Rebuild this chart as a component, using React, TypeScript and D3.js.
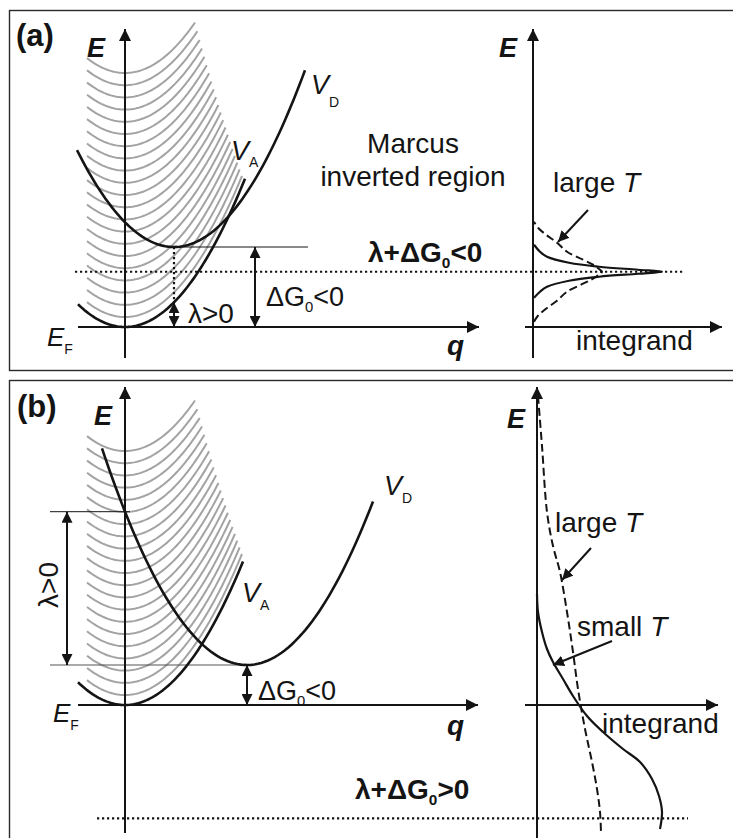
import React from 'react';
import * as d3 from 'd3';

const W = 733;
const H = 838;

// Parabola curvature shared by all diabatic curves (energy per q^2)
const curvature = [0.103];

// Equally spaced acceptor manifold levels above E_F
const acceptorLevels = [
  1.0, 2.22, 3.44, 4.66, 5.88, 7.1, 8.32, 9.54, 10.76, 11.98, 13.2,
  14.42, 15.64, 16.86, 18.08, 19.3, 20.52, 21.74, 22.96, 24.18, 25.4,
];
// q where each manifold level begins, and where the lowest / highest levels end
const levelStartQ = [-3.8];
const levelEndQ = [11.7, 7.0];

// Donor parabola vertex [q, E] in each panel
const donorVertexA = [4.9, 8.0];
const donorVertexB = [12.2, 4.0];

// q ranges drawn for V_A and V_D
const acceptorRangeA = [-4.7, 12.0];
const donorRangeA = [-4.8, 18.0];
const acceptorRangeB = [-4.7, 11.8];
const donorRangeB = [-2.3, 24.8];

// Integrand profiles, panel (a): [E offset from resonance, integrand]
const integrandSmallTA = [
  [-2.6, 0.1], [-2.0, 0.7], [-1.5, 1.4], [-0.9, 3.6], [-0.5, 6.6], [-0.2, 10.5],
  [0, 12.9], [0.2, 10.5], [0.5, 6.6], [0.9, 3.6], [1.5, 1.4], [2.0, 0.7], [2.7, 0.1],
];
const integrandLargeTA = [
  [-5.0, 0.1], [-4.4, 0.5], [-3.7, 1.3], [-2.9, 2.4], [-2.0, 3.4], [-1.2, 5.0], [-0.7, 6.0], [-0.2, 6.7],
  [0, 6.9], [0.2, 6.7], [0.7, 6.0], [1.2, 5.0], [2.0, 3.4], [2.9, 2.4], [3.7, 1.3], [4.4, 0.5], [5.0, 0.1],
];

// Integrand profiles, panel (b): [E, integrand]
const integrandLargeTB = [
  [30.9, 0.1], [25.9, 0.5], [19.3, 1.0], [15.9, 1.6], [13.3, 2.3], [9.3, 3.0], [5.3, 3.6],
  [1.6, 4.1], [-2.4, 4.8], [-5.7, 5.5], [-8.4, 6.0], [-10.7, 6.3], [-12.7, 6.4],
];
const integrandSmallTB = [
  [11.1, 0.0], [9.3, 0.1], [7.3, 0.5], [5.6, 1.0], [4.3, 1.6], [2.6, 2.6], [0.9, 3.6],
  [-1.1, 5.0], [-2.7, 6.6], [-4.4, 8.6], [-5.7, 10.3], [-7.4, 11.5], [-9.1, 12.2],
  [-10.7, 12.5], [-12.4, 12.3],
];

const FONT = '"Liberation Sans", Arial, Helvetica, sans-serif';
const GRAY = '#a3a3a3';
const INK = '#141414';
const DOTS = '2.2 2.8';

const qx = d3.scaleLinear().domain([0, 10]).range([125, 225]);
const yA = d3.scaleLinear().domain([0, 10]).range([327, 227]);
const yB = d3.scaleLinear().domain([0, 10]).range([705, 605]);
const intA = d3.scaleLinear().domain([0, 10]).range([533, 633]);
const intB = d3.scaleLinear().domain([0, 10]).range([537, 637]);

const k = curvature[0];

function parabola(q0: number, e0: number, from: number, to: number, y: d3.ScaleLinear<number, number>) {
  const pts = d3.range(0, 81).map((i) => {
    const q = from + ((to - from) * i) / 80;
    return [q, e0 + k * (q - q0) * (q - q0)] as [number, number];
  });
  return d3
    .line<[number, number]>()
    .x((d) => qx(d[0]))
    .y((d) => y(d[1]))(pts) as string;
}

function profile(
  pts: number[][],
  center: number,
  xs: d3.ScaleLinear<number, number>,
  y: d3.ScaleLinear<number, number>,
) {
  return d3
    .line<number[]>()
    .curve(d3.curveCatmullRom.alpha(0.5))
    .x((d) => xs(d[1]))
    .y((d) => y(center + d[0]))(pts) as string;
}

function Manifold({ y }: { y: d3.ScaleLinear<number, number> }) {
  const n = acceptorLevels.length;
  return (
    <g fill="none" stroke={GRAY} strokeWidth={2}>
      {acceptorLevels.map((e, i) => {
        const end = levelEndQ[0] + ((levelEndQ[1] - levelEndQ[0]) * i) / (n - 1);
        return <path key={i} d={parabola(0, e, levelStartQ[0], end, y)} />;
      })}
    </g>
  );
}

function Sub({ x, y, main, sub, size = 27, subSize = 14, dy = 7, italic = true }: any) {
  return (
    <text x={x} y={y} fontFamily={FONT} fontSize={size} fontStyle={italic ? 'italic' : 'normal'} fill={INK}>
      {main}
      <tspan fontStyle="normal" fontSize={subSize} dy={dy}>{sub}</tspan>
    </text>
  );
}

function DeltaG({ x, y, tail, bold = false, size = 28 }: any) {
  return (
    <text x={x} y={y} fontFamily={FONT} fontSize={size} fontWeight={bold ? 'bold' : 'normal'} fill={INK}>
      {bold ? 'λ+ΔG' : 'ΔG'}
      <tspan fontSize={size * 0.55} dy={6}>0</tspan>
      <tspan dy={-6}>{tail}</tspan>
    </text>
  );
}

export default function App() {
  // Panel (a) energetics
  const [qDa, eDa] = donorVertexA;
  const lambdaA = k * qDa * qDa;
  const dG0A = -eDa;
  const resA = -(lambdaA + dG0A);

  // Panel (b) energetics
  const [qDb, eDb] = donorVertexB;
  const lambdaB = k * qDb * qDb;
  const dG0B = -eDb;
  const resB = -(lambdaB + dG0B);

  const line = (x1: number, y1: number, x2: number, y2: number) => ({ x1, y1, x2, y2 });

  return (
    <svg
      width={W}
      height={H}
      viewBox={`0 0 ${W} ${H}`}
      style={{ position: 'absolute', left: 0, top: 0, background: '#fff' }}
    >
      <defs>
        <marker id="axisHead" viewBox="0 0 12 12" refX={12} refY={6} markerWidth={13} markerHeight={12}
          markerUnits="userSpaceOnUse" orient="auto-start-reverse">
          <path d="M0,0 L12,6 L0,12 Z" fill={INK} />
        </marker>
        <marker id="smallHead" viewBox="0 0 10 10" refX={10} refY={5} markerWidth={11} markerHeight={11}
          markerUnits="userSpaceOnUse" orient="auto-start-reverse">
          <path d="M0,0 L10,5 L0,10 Z" fill={INK} />
        </marker>
        <clipPath id="clipA"><rect x={9} y={10} width={730} height={361} /></clipPath>
        <clipPath id="clipB"><rect x={9} y={380} width={730} height={470} /></clipPath>
      </defs>

      {/* frames */}
      <rect x={9.5} y={10.5} width={730} height={360} fill="none" stroke="#2a2a2a" strokeWidth={1.4} />
      <rect x={9.5} y={380.5} width={730} height={470} fill="none" stroke="#2a2a2a" strokeWidth={1.4} />

      {/* ================= Panel (a) ================= */}
      <g clipPath="url(#clipA)">
        <Manifold y={yA} />

        {/* guides */}
        <line {...line(qx(qDa), yA(eDa), 308, yA(eDa))} stroke={INK} strokeWidth={1} />
        <line {...line(qx(qDa), yA(eDa), qx(qDa), yA(lambdaA))} stroke={INK} strokeWidth={2.2}
          strokeDasharray={DOTS} />
        <line {...line(75, yA(resA), 683, yA(resA))} stroke={INK} strokeWidth={2.2} strokeDasharray={DOTS} />

        {/* axes */}
        <line {...line(qx(0), 358, qx(0), 29)} stroke={INK} strokeWidth={2} markerEnd="url(#axisHead)" />
        <line {...line(78, yA(0), 479, yA(0))} stroke={INK} strokeWidth={2.2} markerEnd="url(#axisHead)" />

        {/* diabatic curves */}
        <path d={parabola(0, 0, acceptorRangeA[0], acceptorRangeA[1], yA)} fill="none" stroke={INK} strokeWidth={2.6} />
        <path d={parabola(qDa, eDa, donorRangeA[0], donorRangeA[1], yA)} fill="none" stroke={INK} strokeWidth={2.6} />

        {/* energy arrows */}
        <line {...line(qx(qDa), yA(lambdaA), qx(qDa), yA(0))} stroke={INK} strokeWidth={2}
          markerStart="url(#smallHead)" markerEnd="url(#smallHead)" />
        <line {...line(qx(13), yA(eDa), qx(13), yA(0))} stroke={INK} strokeWidth={2}
          markerStart="url(#smallHead)" markerEnd="url(#smallHead)" />

        {/* integrand axes */}
        <line {...line(intA(0), 358, intA(0), 29)} stroke={INK} strokeWidth={2} markerEnd="url(#axisHead)" />
        <line {...line(intA(-0.8), yA(0), 722, yA(0))} stroke={INK} strokeWidth={2.2} markerEnd="url(#axisHead)" />

        <path d={profile(integrandLargeTA, resA, intA, yA)} fill="none" stroke={INK} strokeWidth={2}
          strokeDasharray="8 4" />
        <path d={profile(integrandSmallTA, resA, intA, yA)} fill="none" stroke={INK} strokeWidth={2.2} />

        <line {...line(intA(5.5), yA(11.7), intA(2.5), yA(8.5))} stroke={INK} strokeWidth={2}
          markerEnd="url(#smallHead)" />

        {/* labels */}
        <text x={16} y={46} fontFamily={FONT} fontSize={31} fontWeight="bold" fill={INK}>(a)</text>
        <text x={87} y={57} fontFamily={FONT} fontSize={27} fontWeight="bold" fontStyle="italic" fill={INK}>E</text>
        <text x={499} y={57} fontFamily={FONT} fontSize={27} fontWeight="bold" fontStyle="italic" fill={INK}>E</text>
        <Sub x={231} y={160} main="V" sub="A" dy={7} />
        <Sub x={311} y={94} main="V" sub="D" dy={13} />
        <Sub x={47} y={346} main="E" sub="F" dy={8} size={26} />
        <text x={413} y={153} textAnchor="middle" fontFamily={FONT} fontSize={28} fill={INK}>Marcus</text>
        <text x={413} y={186} textAnchor="middle" fontFamily={FONT} fontSize={28} fill={INK}>inverted region</text>
        <text x={553} y={192} fontFamily={FONT} fontSize={28} fill={INK}>
          large <tspan fontStyle="italic">T</tspan>
        </text>
        <DeltaG x={368} y={262} tail="<0" bold size={28} />
        <DeltaG x={266} y={306} tail="<0" size={27} />
        <text x={188} y={323} fontFamily={FONT} fontSize={28} fill={INK}>λ&gt;0</text>
        <text x={447} y={355} fontFamily={FONT} fontSize={28} fontWeight="bold" fontStyle="italic" fill={INK}>q</text>
        <text x={576} y={350} fontFamily={FONT} fontSize={28} fill={INK}>integrand</text>
      </g>

      {/* ================= Panel (b) ================= */}
      <g clipPath="url(#clipB)">
        <Manifold y={yB} />

        {/* guides */}
        <line {...line(50, yB(eDb + lambdaB), 130, yB(eDb + lambdaB))} stroke={INK} strokeWidth={1} />
        <line {...line(50, yB(eDb), qx(qDb), yB(eDb))} stroke="#555" strokeWidth={1.2} />
        <line {...line(97, yB(resB), 688, yB(resB))} stroke={INK} strokeWidth={2.2} strokeDasharray={DOTS} />

        {/* axes */}
        <line {...line(qx(0), 833, qx(0), 387)} stroke={INK} strokeWidth={2} markerEnd="url(#axisHead)" />
        <line {...line(78, yB(0), 478, yB(0))} stroke={INK} strokeWidth={2.2} markerEnd="url(#axisHead)" />

        {/* diabatic curves */}
        <path d={parabola(0, 0, acceptorRangeB[0], acceptorRangeB[1], yB)} fill="none" stroke={INK} strokeWidth={2.6} />
        <path d={parabola(qDb, eDb, donorRangeB[0], donorRangeB[1], yB)} fill="none" stroke={INK} strokeWidth={2.6} />

        {/* energy arrows */}
        <line {...line(qx(-5.8), yB(eDb + lambdaB), qx(-5.8), yB(eDb))} stroke={INK} strokeWidth={2}
          markerStart="url(#smallHead)" markerEnd="url(#smallHead)" />
        <line {...line(qx(qDb), yB(eDb), qx(qDb), yB(0))} stroke={INK} strokeWidth={2}
          markerStart="url(#smallHead)" markerEnd="url(#smallHead)" />

        {/* integrand axes */}
        <line {...line(intB(0), 840, intB(0), 387)} stroke={INK} strokeWidth={2} markerEnd="url(#axisHead)" />
        <line {...line(intB(-1.2), yB(0), 718, yB(0))} stroke={INK} strokeWidth={2.2} markerEnd="url(#axisHead)" />

        <path d={profile(integrandLargeTB, 0, intB, yB)} fill="none" stroke={INK} strokeWidth={2}
          strokeDasharray="8 4" />
        <path d={profile(integrandSmallTB, 0, intB, yB)} fill="none" stroke={INK} strokeWidth={2.2} />

        <line {...line(intB(5.4), yB(15.7), intB(2.5), yB(12.5))} stroke={INK} strokeWidth={2}
          markerEnd="url(#smallHead)" />
        <line {...line(intB(7.5), yB(6.4), intB(1.6), yB(4.0))} stroke={INK} strokeWidth={2}
          markerEnd="url(#smallHead)" />

        {/* labels */}
        <text x={17} y={417} fontFamily={FONT} fontSize={31} fontWeight="bold" fill={INK}>(b)</text>
        <text x={94} y={425} fontFamily={FONT} fontSize={27} fontWeight="bold" fontStyle="italic" fill={INK}>E</text>
        <text x={507} y={428} fontFamily={FONT} fontSize={27} fontWeight="bold" fontStyle="italic" fill={INK}>E</text>
        <Sub x={384} y={495} main="V" sub="D" dy={8} />
        <Sub x={242} y={602} main="V" sub="A" dy={8} />
        <Sub x={53} y={722} main="E" sub="F" dy={8} size={26} />
        <text transform="translate(58,585) rotate(-90)" textAnchor="middle" fontFamily={FONT} fontSize={28}
          fill={INK}>λ&gt;0</text>
        <DeltaG x={258} y={700} tail="<0" size={27} />
        <text x={447} y={735} fontFamily={FONT} fontSize={28} fontWeight="bold" fontStyle="italic" fill={INK}>q</text>
        <text x={602} y={733} fontFamily={FONT} fontSize={28} fill={INK}>integrand</text>
        <text x={555} y={532} fontFamily={FONT} fontSize={28} fill={INK}>
          large <tspan fontStyle="italic">T</tspan>
        </text>
        <text x={577} y={636} fontFamily={FONT} fontSize={28} fill={INK}>
          small <tspan fontStyle="italic">T</tspan>
        </text>
        <DeltaG x={355} y={799} tail=">0" bold size={28} />
      </g>
    </svg>
  );
}
